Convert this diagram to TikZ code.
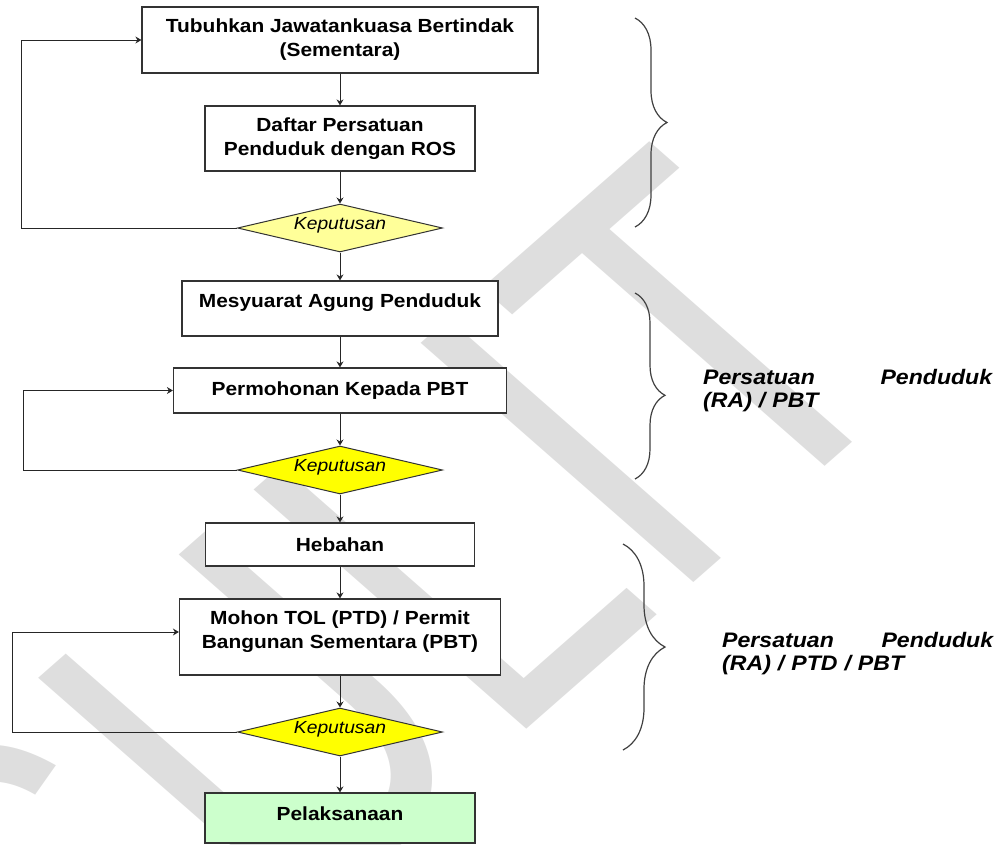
\documentclass[tikz,border=0pt]{standalone}
\usepackage{fontspec}
\setmainfont{Liberation Sans}[FakeStretch=1.1]
\newfontfamily\wmfont{Liberation Sans}
\usetikzlibrary{shapes.geometric,arrows.meta,decorations.pathreplacing}

\definecolor{kuningmuda}{HTML}{FFFF99}
\definecolor{kuning}{HTML}{FFFF00}
\definecolor{hijaumuda}{HTML}{CCFFCC}
\definecolor{tanda}{HTML}{DEDEDE}

\newcommand{\kotakfont}{\fontsize{19}{24}\selectfont\bfseries}
\newcommand{\kepfont}{\fontsize{17.5}{20}\selectfont\itshape}
\newcommand{\sisifont}{\fontsize{21}{23}\selectfont\bfseries\itshape}

\begin{document}
\begin{tikzpicture}[x=1pt,y=-1pt]
        \tikzstyle{langkah}=[rectangle, draw=black!80, line width=1.2pt, fill=white, align=center, inner sep=0pt, font=\kotakfont]
        \tikzstyle{keputusan}=[diamond, aspect=4.25, draw=black!80, line width=1pt, inner sep=0pt, text depth=9pt, minimum width=205pt, minimum height=48pt, font=\kepfont]
        \tikzstyle{anak panah}=[draw=black!85, line width=1pt, -{Stealth[length=6pt,width=7pt,inset=2pt]}]
        \tikzstyle{kurungan}=[draw=black!75, line width=1.2pt, decorate]
        \tikzstyle{catatan}=[anchor=base west, inner sep=0pt, align=left, font=\sisifont]
        \useasboundingbox (0,0) rectangle (1007,844);
        % tera air di belakang
        \begin{scope}
            \clip (0,0) rectangle (1007,844);
            \begin{scope}[shift={(91,1111)}, xscale=1.14, rotate=45, yscale=1.34]
                \node[transform shape, anchor=base west, inner sep=0pt, text=tanda, font=\wmfont\fontsize{367}{367}\selectfont] (sulit) at (0,0) {SULIT};
            \end{scope}
        \end{scope}
        % langkah-langkah
        \node[langkah, minimum width=396pt, minimum height=66pt] (b1) at (340,40) {Tubuhkan Jawatankuasa Bertindak\\(Sementara)};
        \node[langkah, minimum width=270pt, minimum height=65pt] (b2) at (340,138.5) {Daftar Persatuan\\Penduduk dengan ROS};
        \node[keputusan, fill=kuningmuda] (d1) at (340,228) {Keputusan};
        \node[langkah, text depth=15pt, minimum width=316pt, minimum height=55pt] (b3) at (340,308.5) {Mesyuarat Agung Penduduk};
        \node[langkah, minimum width=333pt, minimum height=45pt] (b4) at (340,390.5) {Permohonan Kepada PBT};
        \node[keputusan, fill=kuning] (d2) at (340,470) {Keputusan};
        \node[langkah, minimum width=269pt, minimum height=43pt] (b5) at (340,544.5) {Hebahan};
        \node[langkah, text depth=15pt, minimum width=321pt, minimum height=76pt] (b6) at (340,637) {Mohon TOL (PTD) / Permit\\Bangunan Sementara (PBT)};
        \node[keputusan, fill=kuning] (d3) at (340,732) {Keputusan};
        \node[langkah, text depth=9pt, fill=hijaumuda, minimum width=270pt, minimum height=50pt] (b7) at (340,818) {Pelaksanaan};
        % anak panah
        \draw[anak panah] (b1) -- (b2);
        \draw[anak panah] (b2) -- (d1);
        \draw[anak panah] (d1) -- (b3);
        \draw[anak panah] (b3) -- (b4);
        \draw[anak panah] (b4) -- (d2);
        \draw[anak panah] (d2) -- (b5);
        \draw[anak panah] (b5) -- (b6);
        \draw[anak panah] (b6) -- (d3);
        \draw[anak panah] (d3) -- (b7);
        % gelung balik
        \coordinate (kiri1) at (21,228);
        \coordinate (kiri2) at (23,470);
        \coordinate (kiri3) at (12,732);
        \draw[anak panah] (d1.west) -- (kiri1) |- (b1.west);
        \draw[anak panah] (d2.west) -- (kiri2) |- (b4.west);
        \draw[anak panah] (d3.west) -- (kiri3) |- ([yshift=5pt]b6.west);
        % kurungan dan catatan
        \draw[kurungan, decoration={brace, amplitude=32pt}] (635,18) -- (635,227);
        \draw[kurungan, decoration={brace, amplitude=30pt, aspect=0.55}] (635,293) -- (635,479);
        \draw[kurungan, decoration={brace, amplitude=42pt}] (623,544) -- (623,750);
        \node[catatan, text width=289pt] (ket1) at (703,384) {Persatuan\hfill Penduduk\\(RA) / PBT};
        \node[catatan, text width=271pt] (ket2) at (722,647) {Persatuan\hfill Penduduk\\(RA) / PTD / PBT};
\end{tikzpicture}
\end{document}
